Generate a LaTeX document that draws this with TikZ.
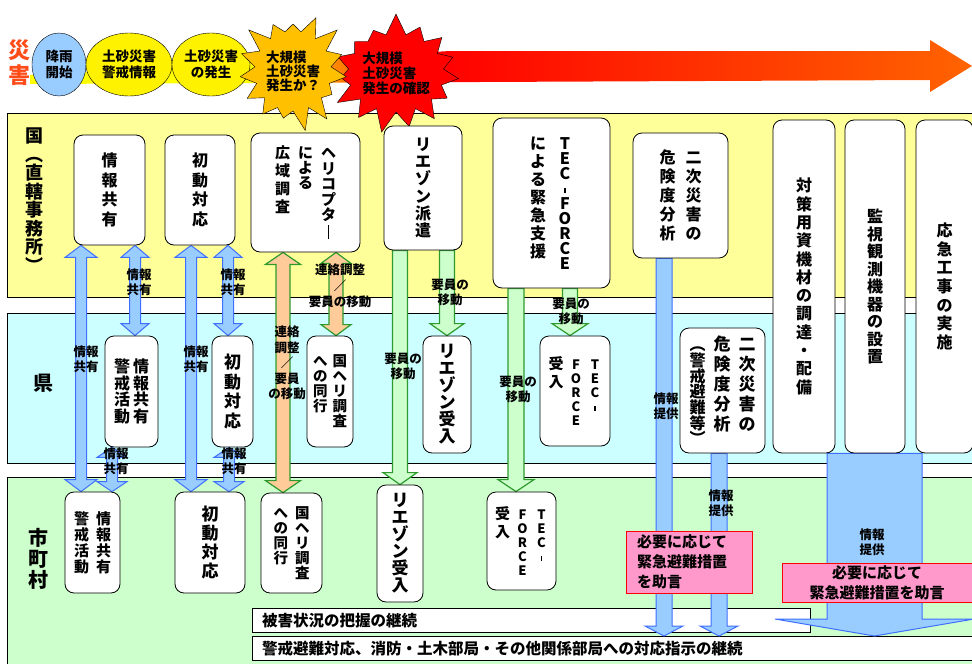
\documentclass[tikz,border=0pt]{standalone}
\usepackage{fontspec}
\setmainfont{Noto Sans CJK JP}
\usetikzlibrary{calc,shapes.geometric,shapes.symbols}

\definecolor{kokuband}{HTML}{FFFF99}
\definecolor{kenband}{HTML}{CCFFFF}
\definecolor{shiband}{HTML}{CCFFCC}
\definecolor{infoblue}{HTML}{99CCFF}
\definecolor{infoedge}{HTML}{3F6FFF}
\definecolor{movegreen}{HTML}{CCFFCC}
\definecolor{moveedge}{HTML}{2E9A2E}
\definecolor{linkorange}{HTML}{FFCC99}
\definecolor{advpink}{HTML}{FF99CC}
\definecolor{starorange}{HTML}{FFC000}
\definecolor{saigai}{HTML}{FF4D1A}
\definecolor{barend}{HTML}{FF6400}

\pgfdeclarehorizontalshading{topbar}{100bp}{color(0bp)=(yellow); color(25bp)=(yellow); color(36.5bp)=(yellow); color(41.5bp)=(orange); color(46.8bp)=(red); color(75bp)=(barend); color(100bp)=(barend)}

\pgfdeclarelayer{bg}
\pgfdeclarelayer{mid}
\pgfsetlayers{bg,mid,main}

\newcommand\fsz[2]{\bfseries\fontsize{#1}{#2}\selectfont}
% vertical writing, one glyph per line
\def\tatei#1{\ifx#1\relax\else\hbox to 1em{\hss#1\hss}\expandafter\tatei\fi}
\newcommand\tate[2][18pt]{\vtop{\baselineskip=#1\lineskiplimit=-50pt\lineskip=0pt\tatei#2\relax}}
\newcommand\vhy{\rule[1pt]{1.6pt}{5pt}}
\newcommand\choon{\rule[-3pt]{1.4pt}{14pt}}

% block arrows: style, tail, tip, shaft half width, head half width, head length
\newcommand\onearrow[6]{%
  \coordinate (arrT) at (#2); \coordinate (arrP) at (#3);
  \coordinate (arrH) at ($(arrP)!#6!(arrT)$);
  \draw[#1] ($(arrT)!#4!90:(arrP)$) -- ($(arrH)!#4!-90:(arrT)$) -- ($(arrH)!#5!-90:(arrT)$) -- (arrP)
    -- ($(arrH)!#5!90:(arrT)$) -- ($(arrH)!#4!90:(arrT)$) -- ($(arrT)!#4!-90:(arrP)$) -- cycle;}
\newcommand\twoarrow[6]{%
  \coordinate (arrT) at (#2); \coordinate (arrP) at (#3);
  \coordinate (arrG) at ($(arrT)!#6!(arrP)$);
  \coordinate (arrH) at ($(arrP)!#6!(arrT)$);
  \draw[#1] (arrT) -- ($(arrG)!#5!90:(arrP)$) -- ($(arrG)!#4!90:(arrP)$) -- ($(arrH)!#4!-90:(arrT)$)
    -- ($(arrH)!#5!-90:(arrT)$) -- (arrP) -- ($(arrH)!#5!90:(arrT)$) -- ($(arrH)!#4!90:(arrT)$)
    -- ($(arrG)!#4!-90:(arrP)$) -- ($(arrG)!#5!-90:(arrP)$) -- cycle;}

\tikzset{
  taskbox/.style={draw, rounded corners=9pt, fill=white, inner sep=0pt, line width=0.8pt, font=\fsz{16}{16}},
  phase/.style={ellipse, draw, inner sep=0pt, font=\fsz{13.5}{16}, align=center},
  burst/.style={starburst, draw, starburst points=15, starburst point height=22pt, random starburst=7, inner sep=0pt, font=\fsz{13.5}{14}, align=left},
  lbl/.style={font=\fsz{12.5}{15}, align=center, inner sep=0pt},
  rowbox/.style={draw, fill=white, anchor=north west, inner xsep=10pt, inner ysep=0pt, minimum height=24pt, align=left, font=\fsz{15.5}{18}},
  advbox/.style={draw=red, fill=advpink, anchor=north west, inner ysep=0pt, font=\fsz{15}{20}},
  bluearrow/.style={fill=infoblue, draw=infoedge, line width=1pt},
  greenarrow/.style={fill=movegreen, draw=moveedge, line width=1.2pt},
  orangearrow/.style={fill=linkorange, draw=moveedge, line width=1.2pt},
}

\begin{document}
\begin{tikzpicture}[x=1pt,y=-1pt]
\useasboundingbox (0,0) rectangle (972,664);

\begin{pgfonlayer}{bg}
  \shade[shading=topbar] (30,75) -- (450,51) -- (930,51) -- (930,40) -- (972,66) -- (930,92) -- (930,80) -- (30,84) -- cycle;
  \draw[fill=kokuband, line width=0.8pt] (7,113) rectangle (975,297);
  \draw[fill=kenband, line width=0.8pt] (7,313) rectangle (975,463);
  \draw[fill=shiband, line width=0.8pt] (7,477) rectangle (975,670);
  \node[rowbox, text width=538pt] (dmg) at (252,608) {被害状況の把握の継続};
  \node[rowbox, text width=700pt] (cont) at (252,636) {警戒避難対応、消防・土木部局・その他関係部局への対応指示の継続};
\end{pgfonlayer}

% time line
\node[font=\fsz{22}{22}, text=saigai] (saigai) at (20,63) {\tate[25pt]{災害}};
\node[phase, fill=infoblue, minimum width=54pt, minimum height=63pt] (rain) at (59,64.5) {降雨\\開始};
\node[phase, fill=yellow, minimum width=86pt, minimum height=63pt] (warn) at (129,64.5) {土砂災害\\警戒情報};
\node[phase, fill=yellow, minimum width=78pt, minimum height=63pt] (occur) at (211,64.5) {土砂災害\\の発生};
\node[burst, fill=red, minimum width=128pt, minimum height=122pt, font=\fsz{13.5}{15}] (sure) at (396,73) {大規模\\土砂災害\\発生の確認};
\node[burst, fill=starorange, minimum width=102pt, minimum height=124pt, random starburst=3] (maybe) at (293,71) {大規模\\土砂災害\\発生か？};

% levels
\node[font=\fsz{18}{18}] (kuni) at (34,200) {\tate[18.5pt]{国︵直轄事務所︶}};
\node[font=\fsz{20}{20}] (ken) at (43,383) {県};
\node[font=\fsz{20}{20}] (shi) at (38,559) {\tate[21pt]{市町村}};

% national
\node[taskbox, minimum width=71pt, minimum height=110pt] (nInfo) at (109.5,190) {\tate[19.4pt]{情報共有}};
\node[taskbox, minimum width=70pt, minimum height=110pt] (nFirst) at (200,190) {\tate[19.4pt]{初動対応}};
\node[taskbox, minimum width=109pt, minimum height=119pt, font=\fsz{15}{15}] (nHeli) at (305.5,192.5) {\tate{広域調査}\hskip8pt\tate[15pt]{による}\hskip8pt\tate[15.5pt]{ヘリコプタ\choon}};
\node[taskbox, minimum width=78pt, minimum height=124pt] (nLiai) at (423,188) {\tate[17.2pt]{リエゾン派遣}};
\node[taskbox, minimum width=117pt, minimum height=170pt] (nTec) at (551.5,203) {\tate{による緊急支援}\hskip11pt\tate[15pt]{TEC\vhy FORCE}};
\node[taskbox, minimum width=95pt, minimum height=125pt] (nRisk) at (680.5,195.5) {\tate[19pt]{危険度分析}\hskip10pt\tate[19pt]{二次災害の}};
\node[taskbox, minimum width=62pt, minimum height=333pt] (nEquip) at (804,286.5) {\tate[18.3pt]{対策用資機材の調達・配備}};
\node[taskbox, minimum width=60pt, minimum height=333pt] (nMonit) at (875,286.5) {\tate[17.5pt]{監視観測機器の設置}};
\node[taskbox, minimum width=57pt, minimum height=333pt] (nWork) at (944.5,286.5) {\tate[18.7pt]{応急工事の実施}};

% prefecture
\node[taskbox, minimum width=53pt, minimum height=111pt] (pInfo) at (131.5,391.5) {\tate[16.5pt]{警戒活動}\hskip3pt\tate[16.5pt]{情報共有}};
\node[taskbox, minimum width=41pt, minimum height=111pt, font=\fsz{17}{17}] (pFirst) at (232.5,391.5) {\tate[19.5pt]{初動対応}};
\node[taskbox, minimum width=46pt, minimum height=111pt, font=\fsz{14.5}{14.5}] (pHeli) at (330,391.5) {\tate[15pt]{への同行}\hskip5pt\tate[15pt]{国ヘリ調査}};
\node[taskbox, minimum width=48pt, minimum height=117pt, font=\fsz{17}{17}] (pLiai) at (447,394.5) {\tate[17pt]{リエゾン受入}};
\node[taskbox, minimum width=70pt, minimum height=110pt, font=\fsz{15}{15}] (pTec) at (575,391) {\tate[18pt]{受入}\hskip6pt{\fsz{13}{13}\tate[14.2pt]{FORCE}\hskip6pt\tate[14.2pt]{TEC\vhy}}};
\node[taskbox, minimum width=85pt, minimum height=125pt, font=\fsz{17}{17}] (pRisk) at (722.5,390.5) {{\fsz{16}{16}\tate[15.7pt]{︵警戒避難等︶}}\hskip8pt\tate[20pt]{危険度分析}\hskip8pt\tate[20pt]{二次災害の}};

% municipality
\node[taskbox, minimum width=55pt, minimum height=101pt, font=\fsz{15}{15}] (mInfo) at (92.5,542.5) {\tate[16pt]{警戒活動}\hskip7pt\tate[16pt]{情報共有}};
\node[taskbox, minimum width=70pt, minimum height=101pt, font=\fsz{17}{17}] (mFirst) at (210,542.5) {\tate[19pt]{初動対応}};
\node[taskbox, minimum width=61pt, minimum height=100pt, font=\fsz{14.5}{14.5}] (mHeli) at (291.5,543) {\tate[15pt]{への同行}\hskip7pt\tate[15pt]{国ヘリ調査}};
\node[taskbox, minimum width=46pt, minimum height=117pt, font=\fsz{17}{17}] (mLiai) at (400,543.5) {\tate[17pt]{リエゾン受入}};
\node[taskbox, minimum width=69pt, minimum height=98pt, font=\fsz{15}{15}] (mTec) at (521.5,541) {\tate[18pt]{受入}\hskip6pt{\fsz{13}{13}\tate[14.2pt]{FORCE}\hskip6pt\tate[14.2pt]{TEC\vhy}}};

% connectors
\begin{pgfonlayer}{mid}
  \twoarrow{bluearrow}{81,0 |- nInfo.south}{81,0 |- mInfo.north}{5.5pt}{16pt}{12pt}
  \twoarrow{bluearrow}{135,0 |- nInfo.south}{135,0 |- pInfo.north}{5.5pt}{14pt}{12pt}
  \twoarrow{bluearrow}{112,0 |- pInfo.south}{112,0 |- mInfo.north}{5.5pt}{15pt}{10pt}
  \twoarrow{bluearrow}{191,0 |- nFirst.south}{191,0 |- mFirst.north}{5.5pt}{16pt}{12pt}
  \twoarrow{bluearrow}{228,0 |- nFirst.south}{228,0 |- pFirst.north}{5.5pt}{14pt}{12pt}
  \twoarrow{bluearrow}{229,0 |- pFirst.south}{229,0 |- mFirst.north}{5.5pt}{15pt}{10pt}
  \twoarrow{orangearrow}{283,0 |- nHeli.south}{283,0 |- mHeli.north}{7pt}{17.5pt}{12pt}
  \twoarrow{orangearrow}{336,0 |- nHeli.south}{336,0 |- pHeli.north}{7pt}{15pt}{11pt}
  \onearrow{greenarrow}{400,0 |- nLiai.south}{400,0 |- mLiai.north}{7.5pt}{17pt}{12pt}
  \onearrow{greenarrow}{447,0 |- nLiai.south}{447,0 |- pLiai.north}{7.5pt}{17pt}{12pt}
  \onearrow{greenarrow}{516,0 |- nTec.south}{516,0 |- mTec.north}{8pt}{18pt}{12pt}
  \onearrow{greenarrow}{570,0 |- nTec.south}{570,0 |- pTec.north}{7.5pt}{18pt}{12pt}
  \onearrow{bluearrow}{664,0 |- nRisk.south}{664,0 |- cont.north}{8pt}{19pt}{10pt}
  \onearrow{bluearrow}{719,0 |- pRisk.south}{719,0 |- cont.north}{8pt}{19pt}{10pt}
  \onearrow{bluearrow}{874.5,0 |- nMonit.south}{874.5,0 |- cont.north}{47.5pt}{99.5pt}{17pt}
\end{pgfonlayer}

% advice
\node[advbox, minimum width=126pt, minimum height=62pt, inner xsep=11pt, text width=104pt, align=left] (adv1) at (626,531) {必要に応じて\\緊急避難措置\\を助言};
\node[advbox, minimum width=190pt, minimum height=39pt, inner xsep=10pt, text width=170pt, align=center] (adv2) at (782,563) {必要に応じて\\緊急避難措置を助言};

% connector labels
\node[lbl] (l1) at (86,359) {情報\\共有};
\node[lbl] (l2) at (139,282) {情報\\共有};
\node[lbl] (l3) at (116,461) {情報\\共有};
\node[lbl] (l4) at (196,359) {情報\\共有};
\node[lbl] (l5) at (233,282) {情報\\共有};
\node[lbl] (l6) at (234,461) {情報\\共有};
\node[lbl, font=\fsz{12.5}{15.5}] (l7) at (287,363) {連絡\\調整\\／\\要員\\の移動};
\node[lbl, font=\fsz{12.5}{16}] (l8) at (340,286) {連絡調整\\／\\要員の移動};
\node[lbl] (l9) at (403,366) {要員の\\移動};
\node[lbl] (l10) at (450,292) {要員の\\移動};
\node[lbl] (l11) at (518,389) {要員の\\移動};
\node[lbl] (l12) at (571,311) {要員の\\移動};
\node[lbl] (l13) at (666,406) {情報\\提供};
\node[lbl] (l14) at (721,503) {情報\\提供};
\node[lbl] (l15) at (872,542) {情報\\提供};
\end{tikzpicture}
\end{document}
